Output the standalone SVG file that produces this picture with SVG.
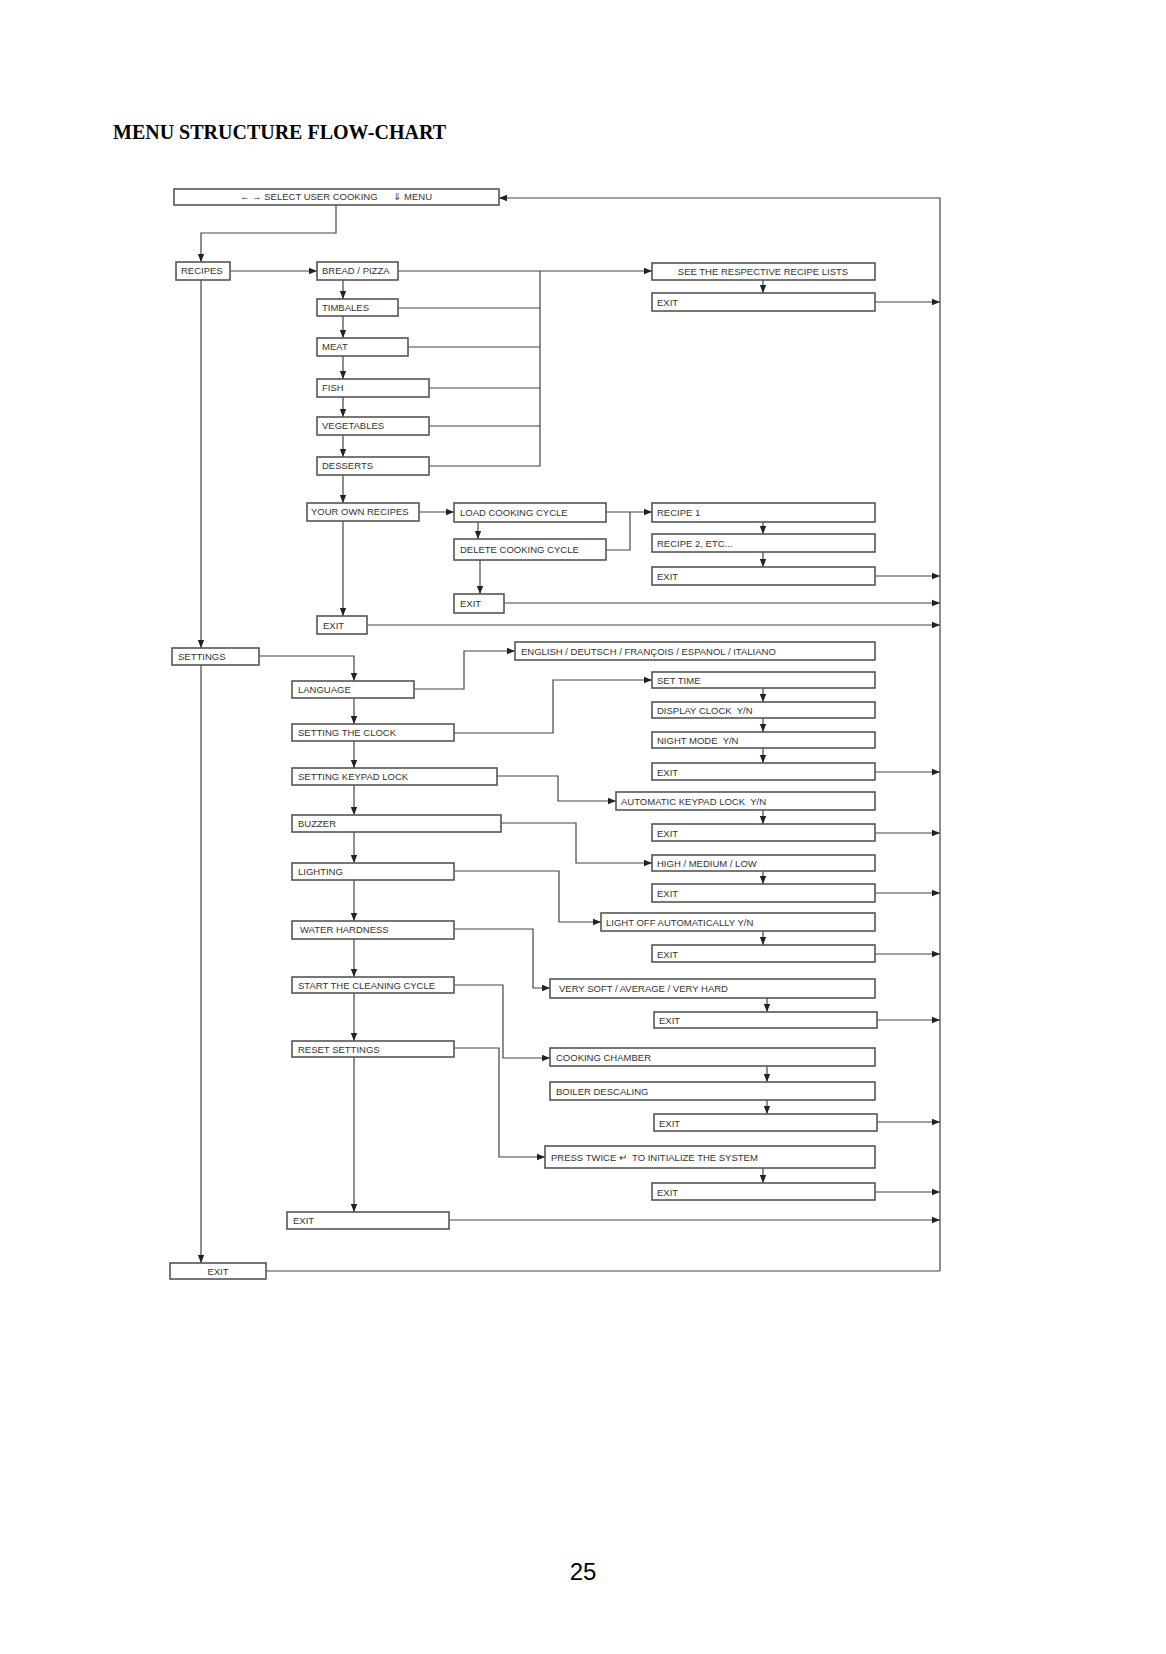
<svg xmlns="http://www.w3.org/2000/svg" width="1166" height="1654" viewBox="0 0 1166 1654">
<style>
.b rect{fill:#fff;stroke:#555;stroke-width:1.6}
.b text{font-family:"Liberation Sans",Arial,sans-serif;font-size:9.5px;fill:#333}
.c path{fill:none;stroke:#444;stroke-width:1.2}
</style>
<defs><marker id="a" viewBox="0 0 10 10" refX="10" refY="5" markerWidth="7" markerHeight="7" orient="auto"><path d="M0,1L10,5L0,9z" fill="#222"/></marker></defs>
<rect width="1166" height="1654" fill="#fff"/>
<text x="113" y="139" font-family="Liberation Serif,serif" font-weight="bold" font-size="20">MENU STRUCTURE FLOW-CHART</text>
<text x="583" y="1580" text-anchor="middle" font-family="Liberation Sans,sans-serif" font-size="24">25</text>
<g class="c">
<path d="M940,1271V198H499" marker-end="url(#a)"/>
<path d="M336,205V233H201V262" marker-end="url(#a)"/>
<path d="M230,271H317" marker-end="url(#a)"/>
<path d="M398,271H652" marker-end="url(#a)"/>
<path d="M540,271V466H429M398,308H540M408,347H540M429,388H540M429,426H540"/>
<path d="M343,280V299" marker-end="url(#a)"/><path d="M343,316V338" marker-end="url(#a)"/><path d="M343,356V379" marker-end="url(#a)"/><path d="M343,397V417" marker-end="url(#a)"/><path d="M343,435V457" marker-end="url(#a)"/><path d="M343,475V503" marker-end="url(#a)"/>
<path d="M763,280V293" marker-end="url(#a)"/>
<path d="M875,302H940" marker-end="url(#a)"/>
<path d="M419,512H454" marker-end="url(#a)"/>
<path d="M606,512H652" marker-end="url(#a)"/><path d="M630,512V550H606"/>
<path d="M478,522V539" marker-end="url(#a)"/>
<path d="M480,560V594" marker-end="url(#a)"/>
<path d="M763,522V534" marker-end="url(#a)"/><path d="M763,552V567" marker-end="url(#a)"/>
<path d="M875,576H940" marker-end="url(#a)"/>
<path d="M504,603H940" marker-end="url(#a)"/>
<path d="M343,521V616" marker-end="url(#a)"/>
<path d="M367,625H940" marker-end="url(#a)"/>
<path d="M201,280V648" marker-end="url(#a)"/>
<path d="M201,665V1263" marker-end="url(#a)"/>
<path d="M259,656H354V681" marker-end="url(#a)"/>
<path d="M354,698V724" marker-end="url(#a)"/><path d="M354,741V768" marker-end="url(#a)"/><path d="M354,785V815" marker-end="url(#a)"/><path d="M354,832V863" marker-end="url(#a)"/><path d="M354,880V921" marker-end="url(#a)"/><path d="M354,939V977" marker-end="url(#a)"/><path d="M354,993V1041" marker-end="url(#a)"/><path d="M354,1057V1212" marker-end="url(#a)"/>
<path d="M414,689H464V651H515" marker-end="url(#a)"/>
<path d="M454,733H553V680H652" marker-end="url(#a)"/>
<path d="M763,688V702" marker-end="url(#a)"/><path d="M763,718V732" marker-end="url(#a)"/><path d="M763,748V763" marker-end="url(#a)"/>
<path d="M875,772H940" marker-end="url(#a)"/>
<path d="M497,776H558V801H616" marker-end="url(#a)"/>
<path d="M763,810V824" marker-end="url(#a)"/>
<path d="M875,833H940" marker-end="url(#a)"/>
<path d="M501,823H576V863H652" marker-end="url(#a)"/>
<path d="M763,871V884" marker-end="url(#a)"/>
<path d="M875,893H940" marker-end="url(#a)"/>
<path d="M454,871H559V922H601" marker-end="url(#a)"/>
<path d="M763,931V945" marker-end="url(#a)"/>
<path d="M875,954H940" marker-end="url(#a)"/>
<path d="M454,929H533V988H550" marker-end="url(#a)"/>
<path d="M767,998V1012" marker-end="url(#a)"/>
<path d="M877,1020H940" marker-end="url(#a)"/>
<path d="M454,985H503V1058H550" marker-end="url(#a)"/>
<path d="M767,1066V1082" marker-end="url(#a)"/><path d="M767,1100V1114" marker-end="url(#a)"/>
<path d="M877,1122H940" marker-end="url(#a)"/>
<path d="M454,1048H499V1157H545" marker-end="url(#a)"/>
<path d="M763,1168V1183" marker-end="url(#a)"/>
<path d="M875,1192H940" marker-end="url(#a)"/>
<path d="M449,1220H940" marker-end="url(#a)"/>
<path d="M266,1271H940"/>
</g>
<g class="b">
<g id="top"><rect x="174" y="189" width="325" height="16"/><text x="336" y="200" text-anchor="middle" xml:space="preserve">← → SELECT USER COOKING      ⇓ MENU</text></g>
<g id="recipes"><rect x="176" y="262" width="54" height="18"/><text x="181" y="274">RECIPES</text></g>
<g id="bread"><rect x="317" y="262" width="81" height="18"/><text x="322" y="274">BREAD / PIZZA</text></g>
<g id="timbales"><rect x="317" y="299" width="81" height="17"/><text x="322" y="311">TIMBALES</text></g>
<g id="meat"><rect x="317" y="338" width="91" height="18"/><text x="322" y="350">MEAT</text></g>
<g id="fish"><rect x="317" y="379" width="112" height="18"/><text x="322" y="391">FISH</text></g>
<g id="veg"><rect x="317" y="417" width="112" height="18"/><text x="322" y="429">VEGETABLES</text></g>
<g id="desserts"><rect x="317" y="457" width="112" height="18"/><text x="322" y="469">DESSERTS</text></g>
<g id="see"><rect x="652" y="263" width="223" height="17"/><text x="763" y="275" text-anchor="middle">SEE THE RESPECTIVE RECIPE LISTS</text></g>
<g id="exit1"><rect x="652" y="293" width="223" height="18"/><text x="657" y="306">EXIT</text></g>
<g id="own"><rect x="307" y="503" width="112" height="18"/><text x="311" y="515">YOUR OWN RECIPES</text></g>
<g id="load"><rect x="454" y="503" width="152" height="19"/><text x="460" y="516">LOAD COOKING CYCLE</text></g>
<g id="delete"><rect x="454" y="539" width="152" height="21"/><text x="460" y="553">DELETE COOKING CYCLE</text></g>
<g id="r1"><rect x="652" y="503" width="223" height="19"/><text x="657" y="516">RECIPE 1</text></g>
<g id="r2"><rect x="652" y="534" width="223" height="18"/><text x="657" y="547">RECIPE 2, ETC...</text></g>
<g id="exit2"><rect x="652" y="567" width="223" height="18"/><text x="657" y="580">EXIT</text></g>
<g id="exit3"><rect x="454" y="594" width="50" height="19"/><text x="460" y="607">EXIT</text></g>
<g id="exit4"><rect x="317" y="616" width="50" height="18"/><text x="323" y="629">EXIT</text></g>
<g id="settings"><rect x="172" y="648" width="87" height="17"/><text x="178" y="660">SETTINGS</text></g>
<g id="lang"><rect x="292" y="681" width="122" height="17"/><text x="298" y="693">LANGUAGE</text></g>
<g id="langs"><rect x="515" y="642" width="360" height="18"/><text x="521" y="655">ENGLISH / DEUTSCH / FRANÇOIS / ESPANOL / ITALIANO</text></g>
<g id="clock"><rect x="292" y="724" width="162" height="17"/><text x="298" y="736">SETTING THE CLOCK</text></g>
<g id="settime"><rect x="652" y="672" width="223" height="16"/><text x="657" y="684">SET TIME</text></g>
<g id="disp"><rect x="652" y="702" width="223" height="16"/><text x="657" y="714" xml:space="preserve">DISPLAY CLOCK  Y/N</text></g>
<g id="night"><rect x="652" y="732" width="223" height="16"/><text x="657" y="744" xml:space="preserve">NIGHT MODE  Y/N</text></g>
<g id="exit5"><rect x="652" y="763" width="223" height="17"/><text x="657" y="776">EXIT</text></g>
<g id="keypad"><rect x="292" y="768" width="205" height="17"/><text x="298" y="780">SETTING KEYPAD LOCK</text></g>
<g id="autolock"><rect x="616" y="792" width="259" height="18"/><text x="621" y="805" xml:space="preserve">AUTOMATIC KEYPAD LOCK  Y/N</text></g>
<g id="exit6"><rect x="652" y="824" width="223" height="17"/><text x="657" y="837">EXIT</text></g>
<g id="buzzer"><rect x="292" y="815" width="209" height="17"/><text x="298" y="827">BUZZER</text></g>
<g id="hml"><rect x="652" y="855" width="223" height="16"/><text x="657" y="867">HIGH / MEDIUM / LOW</text></g>
<g id="exit7"><rect x="652" y="884" width="223" height="18"/><text x="657" y="897">EXIT</text></g>
<g id="lighting"><rect x="292" y="863" width="162" height="17"/><text x="298" y="875">LIGHTING</text></g>
<g id="lightoff"><rect x="601" y="913" width="274" height="18"/><text x="606" y="926">LIGHT OFF AUTOMATICALLY Y/N</text></g>
<g id="exit8"><rect x="652" y="945" width="223" height="17"/><text x="657" y="958">EXIT</text></g>
<g id="water"><rect x="292" y="921" width="162" height="18"/><text x="300" y="933">WATER HARDNESS</text></g>
<g id="soft"><rect x="550" y="979" width="325" height="19"/><text x="559" y="992">VERY SOFT / AVERAGE / VERY HARD</text></g>
<g id="exit9"><rect x="654" y="1012" width="223" height="16"/><text x="659" y="1024">EXIT</text></g>
<g id="clean"><rect x="292" y="977" width="162" height="16"/><text x="298" y="989">START THE CLEANING CYCLE</text></g>
<g id="chamber"><rect x="550" y="1048" width="325" height="18"/><text x="556" y="1061">COOKING CHAMBER</text></g>
<g id="boiler"><rect x="550" y="1082" width="325" height="18"/><text x="556" y="1095">BOILER DESCALING</text></g>
<g id="exit10"><rect x="654" y="1114" width="223" height="17"/><text x="659" y="1127">EXIT</text></g>
<g id="reset"><rect x="292" y="1041" width="162" height="16"/><text x="298" y="1053">RESET SETTINGS</text></g>
<g id="press"><rect x="545" y="1146" width="330" height="22"/><text x="551" y="1161" xml:space="preserve">PRESS TWICE ↵  TO INITIALIZE THE SYSTEM</text></g>
<g id="exit11"><rect x="652" y="1183" width="223" height="17"/><text x="657" y="1196">EXIT</text></g>
<g id="exit12"><rect x="287" y="1212" width="162" height="17"/><text x="293" y="1224">EXIT</text></g>
<g id="exit13"><rect x="170" y="1263" width="96" height="16"/><text x="218" y="1275" text-anchor="middle">EXIT</text></g>
</g>
</svg>
